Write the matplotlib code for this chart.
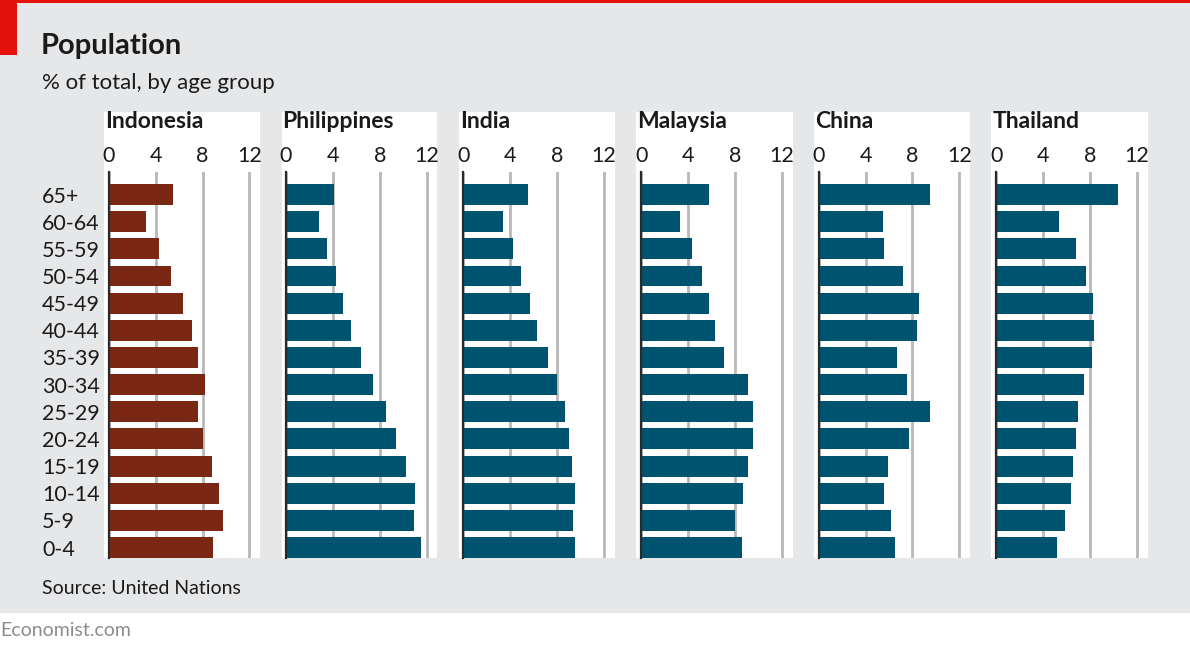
import matplotlib.pyplot as plt
from matplotlib.patches import Rectangle
import numpy as np

plt.rcParams['font.family'] = ['Lato', 'DejaVu Sans']

# Data (% of total population, by age group)
age_groups = ["0-4", "5-9", "10-14", "15-19", "20-24", "25-29", "30-34",
              "35-39", "40-44", "45-49", "50-54", "55-59", "60-64", "65+"]
countries = ["Indonesia", "Philippines", "India", "Malaysia", "China", "Thailand"]

indonesia = [8.9, 9.75, 9.4, 8.8, 8.0, 7.6, 8.2, 7.6, 7.1, 6.3, 5.3, 4.3, 3.2, 5.45]
philippines = [11.5, 10.95, 11.0, 10.25, 9.4, 8.5, 7.4, 6.4, 5.5, 4.85, 4.25, 3.5, 2.8, 4.1]
india = [9.55, 9.35, 9.5, 9.3, 9.0, 8.65, 7.95, 7.2, 6.3, 5.65, 4.9, 4.2, 3.35, 5.5]
malaysia = [8.6, 7.95, 8.7, 9.05, 9.5, 9.55, 9.05, 7.0, 6.3, 5.75, 5.2, 4.35, 3.3, 5.75]
china = [6.55, 6.15, 5.6, 5.9, 7.7, 9.5, 7.5, 6.7, 8.4, 8.6, 7.2, 5.6, 5.5, 9.5]
thailand = [5.2, 5.85, 6.4, 6.55, 6.8, 6.95, 7.45, 8.15, 8.3, 8.25, 7.65, 6.75, 5.35, 10.4]
series = [indonesia, philippines, india, malaysia, china, thailand]

W, H = 1190, 650
BG = '#e6e7e9'
RED = '#e3120b'
BROWN = '#7a2714'
BLUE = '#00536f'

fig = plt.figure(figsize=(W / 100, H / 100), dpi=100)
fig.patch.set_facecolor('white')


def fx(px):
    return px / W


def fy(py):
    return 1 - py / H


# grey background, red bar and red tab
fig.add_artist(Rectangle((0, fy(613)), 1, 613 / H, transform=fig.transFigure,
                         facecolor=BG, edgecolor='none', zorder=-3))
fig.add_artist(Rectangle((0, fy(3)), 1, 3 / H, transform=fig.transFigure,
                         facecolor=RED, edgecolor='none', zorder=1))
fig.add_artist(Rectangle((0, fy(55)), fx(17), 52 / H, transform=fig.transFigure,
                         facecolor=RED, edgecolor='none', zorder=1))

fig.text(fx(41), fy(46), "Population", fontsize=21, fontweight='bold',
         color='#1a1a1a', va='center', ha='left')
fig.text(fx(42), fy(83), "% of total, by age group", fontsize=16,
         color='#1a1a1a', va='center', ha='left')
fig.text(fx(42), fy(588), "Source: United Nations", fontsize=14,
         color='#1a1a1a', va='center', ha='left')
fig.text(fx(0), fy(630), "Economist.com", fontsize=14,
         color='#8c8c8c', va='center', ha='left')

# panel geometry in pixels: white box left, zero line, px per unit
panel_left = [104, 281.5, 459, 636.4, 814, 991.4]
zero_px = [108.7, 286, 463.3, 641.4, 818.6, 996.4]
unit_px = 11.73
xmax = 12.9
top_px, bottom_px = 172, 558

y = np.arange(len(age_groups))

for i, (name, vals) in enumerate(zip(countries, series)):
    right = zero_px[i] + xmax * unit_px
    fig.add_artist(Rectangle((fx(panel_left[i]), fy(bottom_px)),
                             fx(right - panel_left[i]), (bottom_px - 112) / H,
                             transform=fig.transFigure, facecolor='white',
                             edgecolor='none', zorder=-2))
    ax = fig.add_axes([fx(zero_px[i]), fy(bottom_px),
                       fx(xmax * unit_px), (bottom_px - top_px) / H])
    ax.set_facecolor('none')
    color = BROWN if i == 0 else BLUE
    ax.barh(y, vals, height=0.77, color=color, zorder=3)
    ax.set_xlim(0, xmax)
    ax.set_ylim(-0.385, 13.83)
    ax.set_xticks([0, 4, 8, 12])
    ax.xaxis.tick_top()
    ax.tick_params(axis='x', length=0, pad=4, labelsize=15.5, labelcolor='#1a1a1a')
    ax.grid(axis='x', color='#b8b8b8', linewidth=2)
    ax.set_axisbelow(True)
    for s in ['top', 'right', 'bottom']:
        ax.spines[s].set_visible(False)
    ax.spines['left'].set_color('#2a2a2a')
    ax.spines['left'].set_linewidth(1.6)
    ax.spines['left'].set_zorder(4)
    ax.set_yticks(y)
    if i == 0:
        ax.set_yticklabels(age_groups, fontsize=15.5, color='#1a1a1a', ha='left')
        ax.tick_params(axis='y', length=0, pad=(zero_px[0] - 42) * 0.72)
    else:
        ax.tick_params(axis='y', length=0, labelleft=False)
    fig.text(fx(panel_left[i] + 1), fy(122), name, fontsize=16.5, fontweight='bold',
             color='#1a1a1a', va='center', ha='left')

fig.savefig('out.png', dpi=100, facecolor=fig.get_facecolor())
